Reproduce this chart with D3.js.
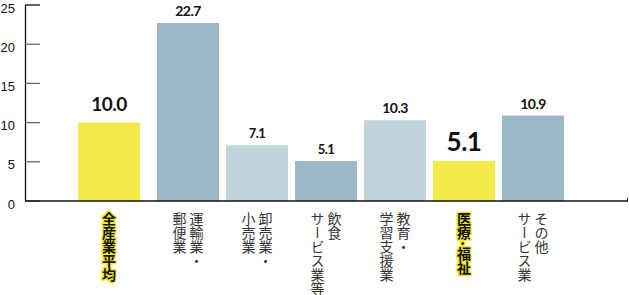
<!DOCTYPE html>
<html>
<head>
<meta charset="utf-8">
<script src="https://cdn.jsdelivr.net/npm/d3@7"></script>
<style>
  body { margin: 0; background: #fff; }
  svg { display: block; }
  .tick-label { font-family: "Liberation Sans", Arial, sans-serif; font-size: 13px; fill: #111; }
  .val { font-family: Lato, "Open Sans", sans-serif; font-weight: 700; fill: #111; }
  .cat { font-family: "Noto Sans CJK JP", sans-serif; font-size: 14px; fill: #333; }
  .cat.hl { font-weight: 700; fill: #111; stroke: #f3e92e; stroke-width: 3px; paint-order: stroke; stroke-linejoin: round; }
</style>
</head>
<body>
<div id="chart"></div>
<script>
let width = 629;
let height = 295;

// data
let categories = ["全産業平均", "運輸業・郵便業", "卸売業・小売業", "飲食サービス業等", "教育・学習支援業", "医療・福祉", "その他サービス業"];
// each label is split into vertical columns (right to left)
let labelColumns = [["全産業平均"], ["運輸業・", "郵便業"], ["卸売業・", "小売業"], ["飲食", "サービス業等"], ["教育・", "学習支援業"], ["医療･福祉"], ["その他", "サービス業"]];
let values = [10.0, 22.7, 7.1, 5.1, 10.3, 5.1, 10.9];
let yTicks = [0, 5, 10, 15, 20, 25];
let highlighted = [true, false, false, false, false, true, false];
let barColors = ["#f1ea48", "#9db9c7", "#c0d4dc", "#9db9c7", "#c0d4dc", "#f1ea48", "#9db9c7"];
let valueSizes = [19, 14, 13, 13, 14, 26, 14];

let svg = d3.select("#chart").append("svg")
    .attr("width", width)
    .attr("height", height);

let y = d3.scaleLinear().domain([0, 25]).range([201, 5]);

let x = d3.scaleBand()
    .domain(categories)
    .range([88, 564])
    .paddingInner(7 / 69)
    .paddingOuter(0);

// the average bar sits a bit further left than the rest
function barX(d, i) {
    return x(d) - (i === 0 ? 10 : 0);
}

// y axis
let axis = svg.append("g");
axis.append("line")
    .attr("x1", 25.5).attr("x2", 25.5)
    .attr("y1", y(25)).attr("y2", y(0))
    .attr("stroke", "#111").attr("stroke-width", 1.3);

axis.selectAll(".tk")
    .data(yTicks)
    .enter().append("line")
    .attr("x1", 25).attr("x2", 40)
    .attr("y1", d => y(d)).attr("y2", d => y(d))
    .attr("stroke", d => d === 25 ? "#111" : "#666")
    .attr("stroke-width", 1.3);

axis.selectAll(".tick-label")
    .data(yTicks)
    .enter().append("text")
    .attr("class", "tick-label")
    .attr("x", 15)
    .attr("y", d => y(d) + 7.5)
    .attr("text-anchor", "end")
    .text(d => d);

// bars
svg.selectAll(".bar")
    .data(categories)
    .enter().append("rect")
    .attr("class", "bar")
    .attr("x", (d, i) => barX(d, i))
    .attr("y", (d, i) => y(values[i]))
    .attr("width", x.bandwidth())
    .attr("height", (d, i) => y(0) - y(values[i]))
    .attr("fill", (d, i) => barColors[i]);

// baseline
svg.append("line")
    .attr("x1", 25).attr("x2", 627.5)
    .attr("y1", 201).attr("y2", 201)
    .attr("stroke", "#111").attr("stroke-width", 1.3);
svg.append("line")
    .attr("x1", 627.5).attr("x2", 627.5)
    .attr("y1", 198).attr("y2", 201.5)
    .attr("stroke", "#111").attr("stroke-width", 1);

// value labels
svg.selectAll(".val")
    .data(categories)
    .enter().append("text")
    .attr("class", "val")
    .attr("x", (d, i) => barX(d, i) + x.bandwidth() / 2)
    .attr("y", (d, i) => y(values[i]) - (valueSizes[i] > 20 ? 10 : valueSizes[i] > 15 ? 12 : 7))
    .attr("text-anchor", "middle")
    .style("font-size", (d, i) => valueSizes[i] + "px")
    .style("letter-spacing", "-0.5px")
    .text((d, i) => values[i].toFixed(1));

// category labels, vertical
let colGap = 17;
categories.forEach((c, i) => {
    let cols = labelColumns[i];
    let cx = barX(c, i) + x.bandwidth() / 2;
    cols.forEach((t, j) => {
        // first column is the rightmost
        let off = ((cols.length - 1) / 2 - j) * colGap;
        svg.append("text")
            .attr("class", highlighted[i] ? "cat hl" : "cat")
            .attr("x", cx + off)
            .attr("y", 212)
            .style("writing-mode", "vertical-rl")
            .text(t);
    });
});
</script>
</body>
</html>
